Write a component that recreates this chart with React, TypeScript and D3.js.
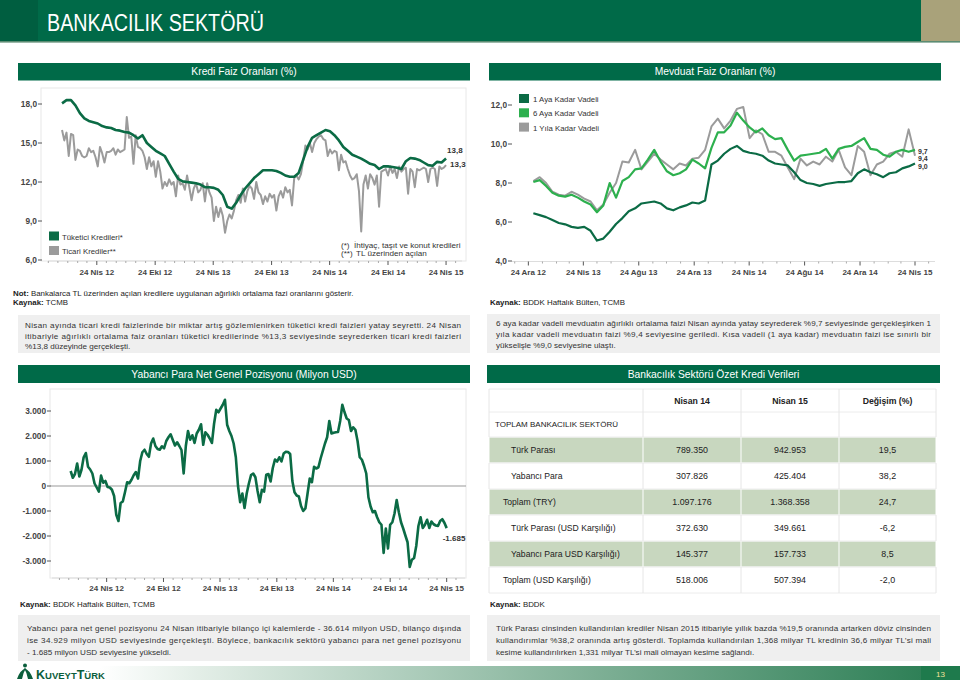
import * as d3 from "d3";

const FONT = "'Liberation Sans', Arial, Helvetica, sans-serif";
const BAND = "#006A48";
const DARK = "#0B6B45";
const LIGHT = "#2DB04E";
const GRAY = "#9B9B9B";
const INK = "#333333";

const trMonths = ["Oca", "Şub", "Mar", "Nis", "May", "Haz", "Tem", "Ağu", "Eyl", "Eki", "Kas", "Ara"];

// Kredi faiz oranları (%) - tüketici: 2 haftada bir, ticari: haftalık, 6 Ocak 2012'den
const krediStart = new Date(2012, 0, 6);
const tuketici = [
  18.05, 18.3, 18.3, 17.9, 17.3, 16.9, 16.7, 16.6, 16.5, 16.3,
  16.2, 16.15, 16.0, 15.95, 15.85, 15.8, 15.6, 15.35, 15.6, 15.0,
  14.7, 14.4, 14.2, 14.0, 13.4, 12.8, 12.25, 12.05, 12.0, 11.95,
  11.9, 11.8, 11.6, 11.6, 11.55, 11.4, 11.0, 10.1, 9.95, 10.4,
  11.0, 11.5, 11.9, 12.3, 12.6, 12.9, 12.9, 12.9, 12.85, 12.7,
  12.5, 12.4, 12.4, 12.7, 13.7, 14.7, 15.4, 15.6, 15.8, 16.0,
  15.9, 15.6, 15.2, 14.7, 14.4, 14.1, 13.95, 13.8, 13.6, 13.4,
  13.3, 13.0, 13.2, 13.2, 13.15, 13.1, 13.0, 13.6, 13.85, 13.8,
  13.7, 13.5, 13.3, 13.25, 13.55, 13.5, 13.8,
];
const ticari = [
  16.0, 15.2, 15.8, 14.0, 15.7, 15.6, 13.7, 14.5, 14.4, 14.0,
  13.9, 14.0, 14.6, 14.3, 14.4, 13.9, 13.2, 14.7, 14.2, 13.5,
  14.3, 14.3, 14.4, 14.6, 14.1, 14.5, 14.3, 14.4, 14.5, 17.0,
  15.4, 15.5, 13.4, 15.6, 14.7, 14.6, 14.4, 13.9, 13.0, 13.9,
  13.2, 13.6, 12.4, 13.6, 12.8, 11.5, 12.0, 11.7, 12.2, 11.8,
  12.0, 10.9, 12.5, 11.8, 11.9, 11.4, 12.5, 11.6, 10.6, 11.5,
  11.9, 11.2, 11.4, 11.9, 10.5, 11.9, 11.2, 10.8, 9.0, 10.1,
  9.3, 10.0, 9.4, 8.1, 9.0, 9.5, 9.2, 9.8, 10.6, 11.0,
  10.4, 11.5, 10.5, 11.3, 11.7, 11.5, 10.7, 12.0, 11.2, 11.0,
  10.3, 10.9, 10.5, 11.1, 10.8, 11.0, 9.8, 10.9, 11.3, 10.8,
  11.6, 11.2, 11.4, 10.2, 12.3, 12.5, 12.2, 12.6, 13.6, 14.8,
  14.5, 15.0, 14.3, 15.0, 15.3, 15.5, 15.6, 15.3, 15.2, 14.0,
  14.5, 14.2, 14.4, 14.3, 12.9, 14.1, 13.5, 13.6, 13.0, 12.5,
  12.2, 12.3, 12.6, 11.3, 8.2, 11.8, 12.5, 11.5, 12.6, 12.3,
  11.8, 12.5, 10.1, 12.8, 12.9, 13.0, 12.5, 13.2, 12.7, 13.0,
  12.3, 13.2, 12.8, 13.0, 13.1, 11.1, 13.0, 12.8, 11.6, 13.0,
  12.9, 13.0, 13.1, 13.0, 12.0, 13.0, 13.1, 13.0, 11.7, 13.2,
  13.0, 13.1, 13.3,
];

// Mevduat faiz oranları (%) - 2 haftada bir, 4 Ocak 2013'ten
const mevduatStart = new Date(2013, 0, 4);
const vade1Ay = [
  6.45, 6.35, 6.25, 6.1, 5.95, 5.88, 5.75, 5.7, 5.75, 5.55,
  5.05, 5.15, 5.5, 5.9, 6.2, 6.55, 6.7, 6.95, 7.0, 7.05,
  6.95, 6.7, 6.6, 6.75, 6.85, 7.0, 6.95, 7.1, 8.95, 9.15,
  9.5, 9.75, 9.9, 9.65, 9.55, 9.5, 9.4, 9.15, 9.0, 8.95,
  8.9, 8.55, 8.15, 8.0, 7.95, 7.85, 7.95, 8.0, 8.05, 8.05,
  8.1, 8.5, 8.7, 8.55, 8.45, 8.3, 8.5, 8.55, 8.75, 8.85, 9.0,
];
const vade6Ay = [
  8.05, 8.15, 7.85, 7.5, 7.35, 7.3, 7.4, 7.25, 7.05, 6.9,
  6.5, 6.85, 8.0, 7.25, 8.1, 8.3, 8.7, 8.75, 9.2, 9.7,
  9.1, 8.6, 8.4, 8.5, 8.7, 9.2, 9.0, 8.75, 9.8, 10.6,
  10.6, 10.95, 11.6, 11.2, 10.85, 10.6, 10.8, 10.45, 10.25, 10.3,
  9.7, 9.15, 9.4, 9.45, 9.5, 9.55, 9.75, 9.25, 9.75, 9.85,
  9.9, 10.1, 10.3, 9.75, 9.7, 9.45, 9.35, 9.6, 9.7, 9.6, 9.7,
];
const vade1Yil = [
  8.1, 8.3, 8.0, 7.55, 7.4, 7.35, 7.55, 7.4, 7.2, 7.05,
  6.6, 6.9, 7.5, 8.0, 9.1, 9.05, 9.7, 8.7, 9.1, 9.5,
  9.2, 8.95, 8.7, 9.0, 8.9, 9.25, 9.3, 9.7, 10.9, 11.3,
  10.8, 11.2, 11.8, 11.9, 10.3, 10.7, 10.5, 9.6, 9.6, 9.4,
  8.8, 8.2, 9.25, 8.9, 9.1, 8.95, 9.35, 9.1, 9.7, 8.8,
  8.4, 9.9, 9.6, 8.4, 8.95, 9.1, 9.5, 9.6, 9.35, 10.75, 9.4,
];

// Yabancı para net genel pozisyonu (milyon USD) - haftalık, 30 Aralık 2011'den
const ngpStart = new Date(2011, 11, 30);
const ngp = [
  600, 330, 480, 900, 380, 650, 1150, 1320, 770, 660,
  500, 100, -60, -225, 420, 130, 200, -40, -60, -150,
  -400, -1150, -1400, -680, -620, -250, 150, 110, 250, 430,
  560, 300, 1000, 1350, 1450, 1280, 1170, 1700, 1900, 1600,
  1480, 1450, 1590, 1510, 1800, 1950, 2070, 1840, 1620, 1750,
  1600, 1440, 500, 1600, 2200, 1850, 2030, 1720, 2100, 2250,
  2470, 1650, 2150, 2050, 1900, 1720, 2500, 3050, 2950, 3100,
  3250, 3450, 2450, 2200, 2000, 1700, 1150, 0, -650, -300,
  -880, -300, 100, 440, 500, 350, -200, -650, -150, -225,
  450, 480, 180, 720, 1060, 980, 1150, 980, 1300, 1370,
  1360, 1280, 200, -250, -380, -420, -800, -1000, -900, -300,
  300, 150, 770, 700, 750, 1100, 1400, 1700, 1950, 2600,
  2100, 2130, 2150, 2160, 2600, 3250, 2950, 2700, 2640, 2200,
  2350, 2250, 1800, 1150, 1050, 800, 500, -450, -820, -1050,
  -1000, -1250, -1450, -1550, -2680, -1700, -2500, -1550, -1450, -1100,
  -560, -1050, -1450, -1700, -1980, -2250, -3240, -2950, -2880, -2400,
  -1600, -1250, -1680, -1550, -1350, -1680, -1420, -1530, -1580, -1600,
  -1400, -1330, -1480, -1685,
];

// Özet kredi verileri
const tableCols = ["Nisan 14", "Nisan 15", "Değişim (%)"];
const tableRows = [
  "Türk Parası",
  "Yabancı Para",
  "Toplam (TRY)",
  "Türk Parası (USD Karşılığı)",
  "Yabancı Para USD Karşılığı)",
  "Toplam (USD Karşılığı)",
];
const rowIndent = [1, 1, 0, 1, 1, 0];
const nisan14 = ["789.350", "307.826", "1.097.176", "372.630", "145.377", "518.006"];
const nisan15 = ["942.953", "425.404", "1.368.358", "349.661", "157.733", "507.394"];
const degisim = ["19,5", "38,2", "24,7", "-6,2", "8,5", "-2,0"];

const krediYTicks = [6, 9, 12, 15, 18];
const mevduatYTicks = [4, 6, 8, 10, 12];
const ngpYTicks = [-3000, -2000, -1000, 0, 1000, 2000, 3000];

const textTopLeft = [
  "Nisan ayında ticari kredi faizlerinde bir miktar artış gözlemlenirken tüketici kredi faizleri yatay seyretti. 24 Nisan",
  "itibariyle ağırlıklı ortalama faiz oranları tüketici kredilerinde %13,3 seviyesinde seyrederken ticari kredi faizleri",
  "%13,8 düzeyinde gerçekleşti.",
];
const textTopRight = [
  "6 aya kadar vadeli mevduatın ağırlıklı ortalama faizi Nisan ayında yatay seyrederek %9,7 seviyesinde gerçekleşirken 1",
  "yıla kadar vadeli mevduatın faizi %9,4 seviyesine geriledi. Kısa vadeli (1 aya kadar) mevduatın faizi ise sınırlı bir",
  "yükselişle %9,0 seviyesine ulaştı.",
];
const textBottomLeft = [
  "Yabancı para net genel pozisyonu 24 Nisan itibariyle bilanço içi kalemlerde - 36.614 milyon USD, bilanço dışında",
  "ise 34.929 milyon USD seviyesinde gerçekleşti. Böylece, bankacılık sektörü yabancı para net genel pozisyonu",
  "- 1.685 milyon USD seviyesine yükseldi.",
];
const textBottomRight = [
  "Türk Parası cinsinden kullandırılan krediler Nisan 2015 itibariyle yıllık bazda %19,5 oranında artarken döviz cinsinden",
  "kullandırımlar %38,2 oranında artış gösterdi. Toplamda kullandırılan 1,368 milyar TL kredinin 36,6 milyar TL’si mali",
  "kesime kullandırılırken 1,331 milyar TL’si mali olmayan kesime sağlandı.",
];

const loc = d3.formatLocale({ decimal: ",", thousands: ".", grouping: [3], currency: ["", ""], minus: "-" });
const f1 = loc.format(".1f");
const f0 = loc.format(",.0f");

type Pt = { date: Date; v: number };
const toSeries = (start: Date, step: number, values: number[]): Pt[] =>
  values.map((v, i) => ({ date: d3.timeDay.offset(start, i * step), v }));

function XAxis({ x, y, majors, dy }: any) {
  const [d0, d1] = x.domain();
  const ticks = d3.timeMonth
    .range(d3.timeMonth.floor(d0), d1)
    .map((m) => new Date(m.getFullYear(), m.getMonth(), 24))
    .filter((d) => d >= d0 && d <= d1);
  const [r0, r1] = x.range();
  return (
    <g>
      <line x1={r0} x2={r1} y1={y} y2={y} stroke="#dddddd" />
      {ticks.map((d, i) => {
        const major = majors.includes(d.getMonth());
        return (
          <g key={i}>
            <line x1={x(d)} x2={x(d)} y1={y} y2={y + (major ? 4 : 2)} stroke={major ? "#555" : "#aaa"} />
            {major && (
              <text x={x(d)} y={y + dy} textAnchor="middle" fontSize={8} fontWeight="bold" fill="#444">
                {`24 ${trMonths[d.getMonth()]} ${String(d.getFullYear()).slice(2)}`}
              </text>
            )}
          </g>
        );
      })}
    </g>
  );
}

function YAxis({ y, x, ticks, fmt }: any) {
  return (
    <g>
      {ticks.map((t: number) => (
        <g key={t}>
          <line x1={x - 4} x2={x} y1={y(t)} y2={y(t)} stroke="#555" />
          <text x={x - 5} y={y(t) + 3} textAnchor="end" fontSize={8.3} fontWeight="bold" fill="#444">
            {fmt(t)}
          </text>
        </g>
      ))}
    </g>
  );
}

function Para({ lines, x, y, width, lh, size }: any) {
  return (
    <g fontSize={size} fill={INK}>
      {lines.map((l: string, i: number) =>
        i < lines.length - 1 ? (
          <text key={i} x={x} y={y + i * lh} textLength={width} lengthAdjust="spacing">
            {l}
          </text>
        ) : (
          <text key={i} x={x} y={y + i * lh}>
            {l}
          </text>
        )
      )}
    </g>
  );
}

function Band({ x, y, w, h, label }: any) {
  return (
    <g>
      <rect x={x} y={y} width={w} height={h} fill={BAND} />
      <text x={x + w / 2} y={y + h / 2 + 3.6} textAnchor="middle" fontSize={10.3} fill="#fff">
        {label}
      </text>
    </g>
  );
}

function KrediChart() {
  const x = d3.scaleTime().domain([new Date(2011, 10, 23), new Date(2015, 5, 13)]).range([48, 462]);
  const y = d3.scaleLinear().domain([6, 18]).range([260, 104]);
  const line = d3
    .line<Pt>()
    .x((d) => x(d.date))
    .y((d) => y(d.v));
  const tk = toSeries(krediStart, 14, tuketici);
  const tc = toSeries(krediStart, 7, ticari);
  const lastT = tk[tk.length - 1];
  const lastC = tc[tc.length - 1];
  return (
    <g>
      <rect x={41} y={88} width={425} height={173} fill="none" stroke="#e8e8e8" />
      <YAxis y={y} x={42} ticks={krediYTicks} fmt={f1} />
      <XAxis x={x} y={261} majors={[3, 9]} dy={13.5} />
      <path d={line(tc) || ""} fill="none" stroke={GRAY} strokeWidth={2} strokeLinejoin="round" />
      <path d={line(tk) || ""} fill="none" stroke={DARK} strokeWidth={2.6} strokeLinejoin="round" />
      <text x={x(lastT.date) + 1} y={y(lastT.v) - 6} fontSize={8} fontWeight="bold" fill="#333">
        {f1(lastT.v)}
      </text>
      <text x={x(lastC.date) + 4} y={y(lastC.v) + 2} fontSize={8} fontWeight="bold" fill="#333">
        {f1(lastC.v)}
      </text>
      <rect x={49} y={231.5} width={10} height={9} fill={DARK} />
      <text x={62} y={239.5} fontSize={7.8} fill="#333">Tüketici Kredileri*</text>
      <rect x={49} y={246} width={10} height={9} fill={GRAY} />
      <text x={62} y={254} fontSize={7.8} fill="#333">Ticari Krediler**</text>
      <g fontSize={8.1} fill="#333">
        <text x={341} y={247.5}>(*)</text>
        <text x={354} y={247.5}>İhtiyaç, taşıt ve konut kredileri</text>
        <text x={341} y={256}>(**)</text>
        <text x={356} y={256}>TL üzerinden açılan</text>
      </g>
    </g>
  );
}

function MevduatChart() {
  const x = d3.scaleTime().domain([new Date(2012, 10, 18), new Date(2015, 5, 7)]).range([512, 935]);
  const y = d3.scaleLinear().domain([4, 12]).range([261, 105]);
  const line = d3
    .line<Pt>()
    .x((d) => x(d.date))
    .y((d) => y(d.v));
  const s1 = toSeries(mevduatStart, 14, vade1Ay);
  const s6 = toSeries(mevduatStart, 14, vade6Ay);
  const s12 = toSeries(mevduatStart, 14, vade1Yil);
  const ex = x(s1[s1.length - 1].date) + 3;
  const legend = [
    { label: "1 Aya Kadar Vadeli", color: DARK },
    { label: "6 Aya Kadar Vadeli", color: LIGHT },
    { label: "1 Yıla Kadar Vadeli", color: GRAY },
  ];
  return (
    <g>
      <YAxis y={y} x={512} ticks={mevduatYTicks} fmt={f1} />
      <XAxis x={x} y={261.5} majors={[11, 3, 7]} dy={13} />
      <path d={line(s12) || ""} fill="none" stroke={GRAY} strokeWidth={2} strokeLinejoin="round" />
      <path d={line(s6) || ""} fill="none" stroke={LIGHT} strokeWidth={2.2} strokeLinejoin="round" />
      <path d={line(s1) || ""} fill="none" stroke={DARK} strokeWidth={2.2} strokeLinejoin="round" />
      <g fontSize={7} fontWeight="bold" fill="#333">
        <text x={ex} y={153.5}>{f1(vade6Ay[vade6Ay.length - 1])}</text>
        <text x={ex} y={161}>{f1(vade1Yil[vade1Yil.length - 1])}</text>
        <text x={ex} y={168.5}>{f1(vade1Ay[vade1Ay.length - 1])}</text>
      </g>
      {legend.map((l, i) => (
        <g key={l.label}>
          <rect x={519} y={94 + i * 14.3} width={10} height={9} fill={l.color} />
          <text x={533} y={102 + i * 14.3} fontSize={7.8} fill="#333">
            {l.label}
          </text>
        </g>
      ))}
    </g>
  );
}

function NgpChart() {
  const x = d3.scaleTime().domain([new Date(2011, 9, 31), new Date(2015, 5, 22)]).range([52, 465]);
  const y = d3.scaleLinear().domain([-3000, 3000]).range([561, 411]);
  const line = d3
    .line<Pt>()
    .x((d) => x(d.date))
    .y((d) => y(d.v));
  const s = toSeries(ngpStart, 7, ngp);
  const last = s[s.length - 1];
  return (
    <g>
      <rect x={50} y={389} width={416} height={189} fill="none" stroke="#e8e8e8" />
      <YAxis y={y} x={51} ticks={ngpYTicks} fmt={f0} />
      <XAxis x={x} y={578} majors={[3, 9]} dy={12.5} />
      <line x1={50} x2={466} y1={y(0)} y2={y(0)} stroke="#999" strokeWidth={1} />
      <path d={line(s) || ""} fill="none" stroke={DARK} strokeWidth={2.6} strokeLinejoin="round" />
      <text x={x(last.date) - 4} y={y(last.v) + 13} fontSize={8} fontWeight="bold" fill="#333">
        {f0(last.v)}
      </text>
    </g>
  );
}

function SummaryTable() {
  const cols = [489, 643, 741, 839, 936];
  const rowTop = (i: number) => 437 + i * 26;
  const centers = cols.slice(1, 4).map((c, i) => (c + cols[i + 2]) / 2);
  const values = [nisan14, nisan15, degisim];
  return (
    <g>
      {tableRows.map((_, i) =>
        i % 2 === 0
          ? cols.slice(0, 4).map((c, j) => (
              <rect key={`${i}-${j}`} x={c + 0.5} y={rowTop(i) + 0.5} width={cols[j + 1] - c - 1} height={25} fill="#C8D7BF" />
            ))
          : null
      )}
      {[389, 412, ...tableRows.map((_, i) => rowTop(i)), rowTop(tableRows.length)].map((yy, i) => (
        <line key={i} x1={489} x2={936} y1={yy} y2={yy} stroke="#ececec" />
      ))}
      {cols.map((c, j) =>
        [[389, 437], ...tableRows.map((_, i) => (i % 2 === 1 ? [rowTop(i), rowTop(i) + 26] : null))]
          .filter(Boolean)
          .map((r: any, k) => <line key={`${j}-${k}`} x1={c} x2={c} y1={r[0]} y2={r[1]} stroke="#e6e6e6" />)
      )}
      {tableCols.map((c, j) => (
        <text key={c} x={centers[j]} y={403.5} textAnchor="middle" fontSize={8.7} fontWeight="bold" fill="#222">
          {c}
        </text>
      ))}
      <text x={495} y={427} fontSize={8} fill="#222">TOPLAM BANKACILIK SEKTÖRÜ</text>
      {tableRows.map((r, i) => (
        <g key={r}>
          <text x={rowIndent[i] ? 511 : 503} y={rowTop(i) + 16} fontSize={8.6} fill="#222">
            {r}
          </text>
          {values.map((col, j) => (
            <text key={j} x={centers[j]} y={rowTop(i) + 16} textAnchor="middle" fontSize={8.9} fill="#222">
              {col[i]}
            </text>
          ))}
        </g>
      ))}
    </g>
  );
}

function Footer() {
  return (
    <g>
      <defs>
        <linearGradient id="footGrad" x1="0" x2="1" y1="0" y2="0">
          <stop offset="0" stopColor="#ffffff" />
          <stop offset="0.12" stopColor="#e3eee7" />
          <stop offset="0.6" stopColor="#7fb096" />
          <stop offset="1" stopColor="#2f8057" />
        </linearGradient>
      </defs>
      <rect x={100} y={666} width={821} height={14} fill="url(#footGrad)" />
      <rect x={921} y={666} width={39} height={14} fill="#1E7A4C" />
      <text x={940.5} y={677} textAnchor="middle" fontSize={8} fill="#F3E39A">13</text>
      <g fill="#0B5E3C">
        <path d="M17 679 Q20 670 26 668 Q23 673 22 679 Z" />
        <path d="M33 679 Q30 670 24 668 Q27 673 28 679 Z" />
        <circle cx={25} cy={665.5} r={2} />
      </g>
      <text x={36} y={678.5} fill="#0B5E3C" fontWeight="bold">
        <tspan fontSize={12.5}>K</tspan>
        <tspan fontSize={9.5}>UVEYT</tspan>
        <tspan fontSize={12.5}>T</tspan>
        <tspan fontSize={9.5}>ÜRK</tspan>
      </text>
    </g>
  );
}

export default function App() {
  return (
    <>
      <style>{"body{margin:0}"}</style>
      <svg width={960} height={680} viewBox="0 0 960 680" style={{ display: "block", background: "#fff" }} fontFamily={FONT}>
        {/* sayfa başlığı */}
        <rect x={0} y={0} width={960} height={41} fill={BAND} />
        <rect x={0} y={0} width={38} height={41} fill="#005E40" />
        <rect x={921} y={0} width={39} height={41} fill="#A9A27A" />
        <rect x={0} y={41} width={960} height={1.6} fill="#5C8C73" />
        <text x={47} y={30.5} fontSize={23} fill="#fff" textLength={217} lengthAdjust="spacingAndGlyphs">
          BANKACILIK SEKTÖRÜ
        </text>

        <Band x={18} y={63} w={452} h={17.5} label="Kredi Faiz Oranları (%)" />
        <Band x={489} y={63} w={452} h={17.5} label="Mevduat Faiz Oranları (%)" />
        <KrediChart />
        <MevduatChart />

        <text x={13} y={296} fontSize={7.9} fill="#222">
          <tspan fontWeight="bold">Not:</tspan> Bankalarca TL üzerinden açılan kredilere uygulanan ağırlıklı ortalama fazi oranlarını gösterir.
        </text>
        <text x={13} y={305} fontSize={7.9} fill="#222">
          <tspan fontWeight="bold">Kaynak:</tspan> TCMB
        </text>
        <text x={490} y={305} fontSize={7.9} fill="#222">
          <tspan fontWeight="bold">Kaynak:</tspan> BDDK Haftalık Bülten, TCMB
        </text>

        <rect x={18} y={315} width={452} height={38} fill="#EFEFEF" />
        <Para lines={textTopLeft} x={25} y={328} width={436} lh={10.6} size={8.1} />
        <rect x={487} y={314} width={453} height={39} fill="#EFEFEF" />
        <Para lines={textTopRight} x={496} y={326} width={435} lh={11} size={8.1} />

        <Band x={18} y={365} w={452} h={18} label="Yabancı Para Net Genel Pozisyonu (Milyon USD)" />
        <Band x={487} y={365} w={453} h={18} label="Bankacılık Sektörü Özet Kredi Verileri" />
        <NgpChart />
        <SummaryTable />

        <text x={20} y={607} fontSize={7.9} fill="#222">
          <tspan fontWeight="bold">Kaynak:</tspan> BDDK Haftalık Bülten, TCMB
        </text>
        <text x={490} y={607} fontSize={7.9} fill="#222">
          <tspan fontWeight="bold">Kaynak:</tspan> BDDK
        </text>

        <rect x={18} y={615} width={452} height={46} fill="#EFEFEF" />
        <Para lines={textBottomLeft} x={27} y={630.5} width={434} lh={12} size={8.1} />
        <rect x={487} y={615} width={453} height={46} fill="#EFEFEF" />
        <Para lines={textBottomRight} x={496} y={630.5} width={435} lh={12} size={8.1} />

        <Footer />
      </svg>
    </>
  );
}
